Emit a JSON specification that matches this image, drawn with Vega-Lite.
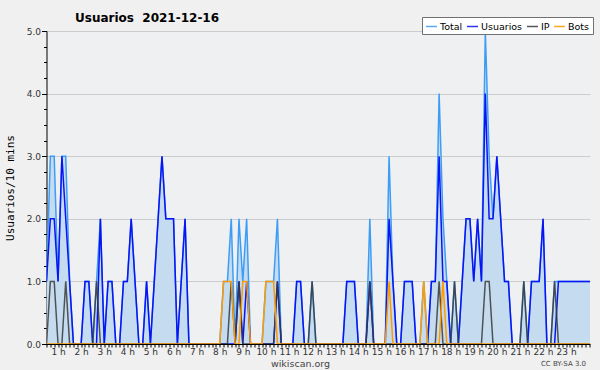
{
  "$schema": "https://vega.github.io/schema/vega-lite/v6.json",
  "width": 543.5,
  "height": 313,
  "autosize": {"type": "none"},
  "padding": {"left": 46.5, "top": 31, "right": 10, "bottom": 26},
  "background": "#f0f0f0",
  "title": {
    "text": "Usuarios\u00a0 2021-12-16",
    "anchor": "start",
    "frame": "group",
    "dx": 28.5,
    "offset": -8,
    "font": "DejaVu Sans",
    "fontSize": 12,
    "fontWeight": "bold",
    "color": "#000000"
  },
  "config": {
    "view": {"stroke": null, "fill": "#eef0f2"},
    "font": "DejaVu Sans"
  },
  "data": {
    "values": [
      {"t":0,"total":1,"usuarios":1,"ip":0,"bots":0},
      {"t":1,"total":3,"usuarios":2,"ip":1,"bots":0},
      {"t":2,"total":3,"usuarios":2,"ip":1,"bots":0},
      {"t":3,"total":1,"usuarios":1,"ip":0,"bots":0},
      {"t":4,"total":3,"usuarios":3,"ip":0,"bots":0},
      {"t":5,"total":3,"usuarios":2,"ip":1,"bots":0},
      {"t":6,"total":1,"usuarios":1,"ip":0,"bots":0},
      {"t":7,"total":0,"usuarios":0,"ip":0,"bots":0},
      {"t":8,"total":0,"usuarios":0,"ip":0,"bots":0},
      {"t":9,"total":0,"usuarios":0,"ip":0,"bots":0},
      {"t":10,"total":1,"usuarios":1,"ip":0,"bots":0},
      {"t":11,"total":1,"usuarios":1,"ip":0,"bots":0},
      {"t":12,"total":0,"usuarios":0,"ip":0,"bots":0},
      {"t":13,"total":1,"usuarios":0,"ip":1,"bots":0},
      {"t":14,"total":2,"usuarios":2,"ip":0,"bots":0},
      {"t":15,"total":0,"usuarios":0,"ip":0,"bots":0},
      {"t":16,"total":1,"usuarios":1,"ip":0,"bots":0},
      {"t":17,"total":1,"usuarios":1,"ip":0,"bots":0},
      {"t":18,"total":0,"usuarios":0,"ip":0,"bots":0},
      {"t":19,"total":0,"usuarios":0,"ip":0,"bots":0},
      {"t":20,"total":1,"usuarios":1,"ip":0,"bots":0},
      {"t":21,"total":1,"usuarios":1,"ip":0,"bots":0},
      {"t":22,"total":2,"usuarios":2,"ip":0,"bots":0},
      {"t":23,"total":1,"usuarios":1,"ip":0,"bots":0},
      {"t":24,"total":0,"usuarios":0,"ip":0,"bots":0},
      {"t":25,"total":0,"usuarios":0,"ip":0,"bots":0},
      {"t":26,"total":1,"usuarios":1,"ip":0,"bots":0},
      {"t":27,"total":0,"usuarios":0,"ip":0,"bots":0},
      {"t":28,"total":1,"usuarios":1,"ip":0,"bots":0},
      {"t":29,"total":2,"usuarios":2,"ip":0,"bots":0},
      {"t":30,"total":3,"usuarios":3,"ip":0,"bots":0},
      {"t":31,"total":2,"usuarios":2,"ip":0,"bots":0},
      {"t":32,"total":2,"usuarios":2,"ip":0,"bots":0},
      {"t":33,"total":2,"usuarios":2,"ip":0,"bots":0},
      {"t":34,"total":0,"usuarios":0,"ip":0,"bots":0},
      {"t":35,"total":1,"usuarios":1,"ip":0,"bots":0},
      {"t":36,"total":2,"usuarios":2,"ip":0,"bots":0},
      {"t":37,"total":0,"usuarios":0,"ip":0,"bots":0},
      {"t":38,"total":0,"usuarios":0,"ip":0,"bots":0},
      {"t":39,"total":0,"usuarios":0,"ip":0,"bots":0},
      {"t":40,"total":0,"usuarios":0,"ip":0,"bots":0},
      {"t":41,"total":0,"usuarios":0,"ip":0,"bots":0},
      {"t":42,"total":0,"usuarios":0,"ip":0,"bots":0},
      {"t":43,"total":0,"usuarios":0,"ip":0,"bots":0},
      {"t":44,"total":0,"usuarios":0,"ip":0,"bots":0},
      {"t":45,"total":0,"usuarios":0,"ip":0,"bots":0},
      {"t":46,"total":1,"usuarios":0,"ip":0,"bots":1},
      {"t":47,"total":1,"usuarios":0,"ip":0,"bots":1},
      {"t":48,"total":2,"usuarios":0,"ip":1,"bots":1},
      {"t":49,"total":0,"usuarios":0,"ip":0,"bots":0},
      {"t":50,"total":2,"usuarios":1,"ip":1,"bots":0},
      {"t":51,"total":1,"usuarios":0,"ip":0,"bots":1},
      {"t":52,"total":2,"usuarios":1,"ip":0,"bots":1},
      {"t":53,"total":0,"usuarios":0,"ip":0,"bots":0},
      {"t":54,"total":0,"usuarios":0,"ip":0,"bots":0},
      {"t":55,"total":0,"usuarios":0,"ip":0,"bots":0},
      {"t":56,"total":0,"usuarios":0,"ip":0,"bots":0},
      {"t":57,"total":1,"usuarios":0,"ip":0,"bots":1},
      {"t":58,"total":1,"usuarios":0,"ip":0,"bots":1},
      {"t":59,"total":1,"usuarios":0,"ip":0,"bots":1},
      {"t":60,"total":2,"usuarios":1,"ip":1,"bots":0},
      {"t":61,"total":0,"usuarios":0,"ip":0,"bots":0},
      {"t":62,"total":0,"usuarios":0,"ip":0,"bots":0},
      {"t":63,"total":0,"usuarios":0,"ip":0,"bots":0},
      {"t":64,"total":0,"usuarios":0,"ip":0,"bots":0},
      {"t":65,"total":1,"usuarios":1,"ip":0,"bots":0},
      {"t":66,"total":1,"usuarios":1,"ip":0,"bots":0},
      {"t":67,"total":0,"usuarios":0,"ip":0,"bots":0},
      {"t":68,"total":0,"usuarios":0,"ip":0,"bots":0},
      {"t":69,"total":1,"usuarios":0,"ip":1,"bots":0},
      {"t":70,"total":0,"usuarios":0,"ip":0,"bots":0},
      {"t":71,"total":0,"usuarios":0,"ip":0,"bots":0},
      {"t":72,"total":0,"usuarios":0,"ip":0,"bots":0},
      {"t":73,"total":0,"usuarios":0,"ip":0,"bots":0},
      {"t":74,"total":0,"usuarios":0,"ip":0,"bots":0},
      {"t":75,"total":0,"usuarios":0,"ip":0,"bots":0},
      {"t":76,"total":0,"usuarios":0,"ip":0,"bots":0},
      {"t":77,"total":0,"usuarios":0,"ip":0,"bots":0},
      {"t":78,"total":1,"usuarios":1,"ip":0,"bots":0},
      {"t":79,"total":1,"usuarios":1,"ip":0,"bots":0},
      {"t":80,"total":1,"usuarios":1,"ip":0,"bots":0},
      {"t":81,"total":0,"usuarios":0,"ip":0,"bots":0},
      {"t":82,"total":0,"usuarios":0,"ip":0,"bots":0},
      {"t":83,"total":0,"usuarios":0,"ip":0,"bots":0},
      {"t":84,"total":2,"usuarios":1,"ip":1,"bots":0},
      {"t":85,"total":0,"usuarios":0,"ip":0,"bots":0},
      {"t":86,"total":0,"usuarios":0,"ip":0,"bots":0},
      {"t":87,"total":0,"usuarios":0,"ip":0,"bots":0},
      {"t":88,"total":0,"usuarios":0,"ip":0,"bots":0},
      {"t":89,"total":3,"usuarios":2,"ip":0,"bots":1},
      {"t":90,"total":1,"usuarios":1,"ip":0,"bots":0},
      {"t":91,"total":0,"usuarios":0,"ip":0,"bots":0},
      {"t":92,"total":0,"usuarios":0,"ip":0,"bots":0},
      {"t":93,"total":1,"usuarios":1,"ip":0,"bots":0},
      {"t":94,"total":1,"usuarios":1,"ip":0,"bots":0},
      {"t":95,"total":1,"usuarios":1,"ip":0,"bots":0},
      {"t":96,"total":0,"usuarios":0,"ip":0,"bots":0},
      {"t":97,"total":0,"usuarios":0,"ip":0,"bots":0},
      {"t":98,"total":1,"usuarios":0,"ip":0,"bots":1},
      {"t":99,"total":0,"usuarios":0,"ip":0,"bots":0},
      {"t":100,"total":1,"usuarios":1,"ip":0,"bots":0},
      {"t":101,"total":1,"usuarios":1,"ip":0,"bots":0},
      {"t":102,"total":4,"usuarios":3,"ip":1,"bots":0},
      {"t":103,"total":2,"usuarios":1,"ip":0,"bots":1},
      {"t":104,"total":1,"usuarios":1,"ip":0,"bots":0},
      {"t":105,"total":0,"usuarios":0,"ip":0,"bots":0},
      {"t":106,"total":1,"usuarios":0,"ip":1,"bots":0},
      {"t":107,"total":0,"usuarios":0,"ip":0,"bots":0},
      {"t":108,"total":1,"usuarios":1,"ip":0,"bots":0},
      {"t":109,"total":2,"usuarios":2,"ip":0,"bots":0},
      {"t":110,"total":2,"usuarios":2,"ip":0,"bots":0},
      {"t":111,"total":1,"usuarios":1,"ip":0,"bots":0},
      {"t":112,"total":2,"usuarios":2,"ip":0,"bots":0},
      {"t":113,"total":1,"usuarios":1,"ip":0,"bots":0},
      {"t":114,"total":5,"usuarios":4,"ip":1,"bots":0},
      {"t":115,"total":3,"usuarios":2,"ip":1,"bots":0},
      {"t":116,"total":2,"usuarios":2,"ip":0,"bots":0},
      {"t":117,"total":3,"usuarios":3,"ip":0,"bots":0},
      {"t":118,"total":2,"usuarios":2,"ip":0,"bots":0},
      {"t":119,"total":1,"usuarios":1,"ip":0,"bots":0},
      {"t":120,"total":1,"usuarios":1,"ip":0,"bots":0},
      {"t":121,"total":0,"usuarios":0,"ip":0,"bots":0},
      {"t":122,"total":0,"usuarios":0,"ip":0,"bots":0},
      {"t":123,"total":0,"usuarios":0,"ip":0,"bots":0},
      {"t":124,"total":1,"usuarios":0,"ip":1,"bots":0},
      {"t":125,"total":0,"usuarios":0,"ip":0,"bots":0},
      {"t":126,"total":1,"usuarios":1,"ip":0,"bots":0},
      {"t":127,"total":1,"usuarios":1,"ip":0,"bots":0},
      {"t":128,"total":1,"usuarios":1,"ip":0,"bots":0},
      {"t":129,"total":2,"usuarios":2,"ip":0,"bots":0},
      {"t":130,"total":0,"usuarios":0,"ip":0,"bots":0},
      {"t":131,"total":0,"usuarios":0,"ip":0,"bots":0},
      {"t":132,"total":1,"usuarios":0,"ip":1,"bots":0},
      {"t":133,"total":1,"usuarios":1,"ip":0,"bots":0},
      {"t":134,"total":1,"usuarios":1,"ip":0,"bots":0},
      {"t":135,"total":1,"usuarios":1,"ip":0,"bots":0},
      {"t":136,"total":1,"usuarios":1,"ip":0,"bots":0},
      {"t":137,"total":1,"usuarios":1,"ip":0,"bots":0},
      {"t":138,"total":1,"usuarios":1,"ip":0,"bots":0},
      {"t":139,"total":1,"usuarios":1,"ip":0,"bots":0},
      {"t":140,"total":1,"usuarios":1,"ip":0,"bots":0},
      {"t":141,"total":1,"usuarios":1,"ip":0,"bots":0},
      {"t":142,"total":1,"usuarios":1,"ip":0,"bots":0},
      {"t":143,"total":1,"usuarios":1,"ip":0,"bots":0}
    ]
  },
  "encoding": {
    "x": {
      "field": "t",
      "type": "quantitative",
      "scale": {"domain": [0, 141.2], "nice": false, "zero": false},
      "axis": {
        "title": "wikiscan.org",
        "titleFont": "DejaVu Sans",
        "titleFontSize": 9.5,
        "titleFontWeight": "normal",
        "titleColor": "#444444",
        "titleX": 253.5,
        "titleY": 19.5,
        "titleBaseline": "middle",
        "titleAnchor": null,
        "values": [0,1,2,3,4,5,6,7,8,9,10,11,12,13,14,15,16,17,18,19,20,21,22,23,24,25,26,27,28,29,30,31,32,33,34,35,36,37,38,39,40,41,42,43,44,45,46,47,48,49,50,51,52,53,54,55,56,57,58,59,60,61,62,63,64,65,66,67,68,69,70,71,72,73,74,75,76,77,78,79,80,81,82,83,84,85,86,87,88,89,90,91,92,93,94,95,96,97,98,99,100,101,102,103,104,105,106,107,108,109,110,111,112,113,114,115,116,117,118,119,120,121,122,123,124,125,126,127,128,129,130,131,132,133,134,135,136,137,138,139,140,141],
        "labelExpr": "datum.value % 6 == 3 && datum.value < 138 ? (floor(datum.value / 6) + 1) + ' h' : ''",
        "labelOverlap": false,
        "labelFlush": false,
        "labelBound": false,
        "labelFont": "DejaVu Sans",
        "labelFontSize": 9,
        "labelColor": "#333333",
        "labelPadding": 0,
        "tickSize": 3,
        "tickColor": "#000000",
        "domainColor": "#000000",
        "domainWidth": 1,
        "grid": false
      }
    }
  },
  "layer": [
    {
      "mark": {"type": "area", "color": "#c5dcf0", "opacity": 1, "clip": true},
      "encoding": {
        "y": {
          "field": "total",
          "type": "quantitative",
          "scale": {"domain": [0, 5], "nice": false},
          "axis": {
            "title": "Usuarios/10 mins",
            "titleFont": "DejaVu Sans Mono",
            "titleFontSize": 11,
            "titleFontWeight": "normal",
            "titleColor": "#000000",
            "titleX": -36,
            "titleBaseline": "middle",
            "values": [0,0.25,0.5,0.75,1,1.25,1.5,1.75,2,2.25,2.5,2.75,3,3.25,3.5,3.75,4,4.25,4.5,4.75,5],
            "labelExpr": "datum.value % 1 == 0 ? format(datum.value, '.1f') : ''",
            "labelFont": "DejaVu Sans",
            "labelFontSize": 9,
            "labelColor": "#333333",
            "labelPadding": 1,
            "labelOverlap": false,
            "labelBound": false,
            "labelFlush": false,
            "tickColor": "#000000",
            "tickSize": {"condition": {"test": "datum.value % 1 == 0", "value": 5}, "value": 3},
            "domainColor": "#000000",
            "grid": true,
            "gridColor": "#cccccc",
            "gridOpacity": {"condition": {"test": "datum.value % 1 == 0 && datum.value > 0", "value": 1}, "value": 0}
          }
        }
      }
    },
    {
      "mark": {"type": "line", "strokeWidth": 1.5, "clip": true},
      "encoding": {"y": {"field": "total", "type": "quantitative", "axis": null}, "color": {"datum": "Total"}}
    },
    {
      "mark": {"type": "line", "strokeWidth": 1.5, "clip": true},
      "encoding": {"y": {"field": "usuarios", "type": "quantitative", "axis": null}, "color": {"datum": "Usuarios"}}
    },
    {
      "mark": {"type": "line", "strokeWidth": 1.5, "clip": true, "opacity": 0.85},
      "encoding": {"y": {"field": "ip", "type": "quantitative", "axis": null}, "color": {"datum": "IP"}}
    },
    {
      "mark": {"type": "line", "strokeWidth": 1.5, "clip": true},
      "encoding": {
        "y": {
          "field": "bots",
          "type": "quantitative",
          "axis": {
            "orient": "right",
            "title": "CC BY-SA 3.0",
            "titleAngle": 0,
            "titleFont": "DejaVu Sans",
            "titleFontSize": 7,
            "titleFontWeight": "normal",
            "titleColor": "#444444",
            "titleX": -27,
            "titleY": 332,
            "titleBaseline": "middle",
            "titleAlign": "center",
            "labels": false,
            "ticks": false,
            "domain": false,
            "grid": false
          }
        },
        "color": {
          "datum": "Bots",
          "type": "nominal",
          "scale": {"domain": ["Total", "Usuarios", "IP", "Bots"], "range": ["#3d9df6", "#0a14f5", "#3a3a3a", "#ff9a00"]},
          "legend": {
            "orient": "none",
            "legendX": 375.5,
            "legendY": -14,
            "direction": "horizontal",
            "title": null,
            "symbolType": "stroke",
            "symbolSize": 121,
            "symbolStrokeWidth": 1.5,
            "labelFont": "DejaVu Sans",
            "labelFontSize": 9.5,
            "labelColor": "#000000",
            "labelOffset": 2,
            "columnPadding": 1,
            "padding": 3,
            "fillColor": "#ffffff",
            "strokeColor": "#707070"
          }
        }
      }
    }
  ],
  "resolve": {"axis": {"y": "independent"}}
}
